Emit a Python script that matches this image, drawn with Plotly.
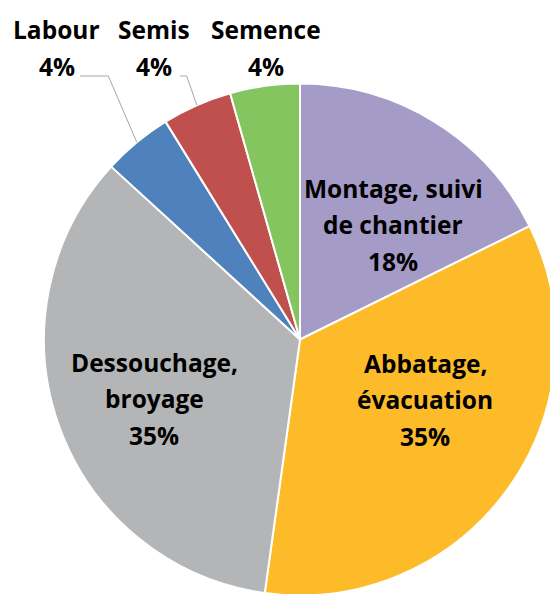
import math
import plotly.graph_objects as go

# ---- data ----
categories = ["Montage, suivi de chantier", "Abbatage, évacuation", "Dessouchage, broyage",
              "Labour", "Semis", "Semence"]
values = [17.7, 34.5, 34.6, 4.4, 4.4, 4.4]
label_lines = [["Montage, suivi", "de chantier"], ["Abbatage,", "évacuation"],
               ["Dessouchage,", "broyage"], ["Labour"], ["Semis"], ["Semence"]]

# ---- style ----
colors = ["#A59BC7", "#FDBB2A", "#B3B5B7", "#4F81BD", "#C0504D", "#85C55F"]
W, H = 560, 600              # slightly larger than the window: the pie is cropped like the original
CX, CY, R = 300, 339.5, 256  # pixels
FONT = dict(family="'Open Sans', 'Noto Sans', sans-serif", size=24.5, color="#000000")
# pixel centre of first text line and line spacing for each label
label_pos = [(393, 188.3, 36.5), (425, 363, 36.5), (154, 362, 36.5),
             (56.7, 29.7, 37), (154, 29.7, 37), (266, 29.7, 37)]
# leader lines: (start x, knee x, y) in pixels for labels outside the pie
leaders = {"Labour": (80, 108.3, 76), "Semis": (180, 186.7, 76)}

total = sum(values)
pcts = [int(v / total * 100 + 0.5) for v in values]

def px(x, y):
    return x / W, 1 - y / H

x0, y1 = px(CX - R, CY - R)
x1, y0 = px(CX + R, CY + R)
fig = go.Figure(go.Pie(
    labels=categories, values=values, sort=False, direction="clockwise", rotation=0,
    marker=dict(colors=colors, line=dict(color="white", width=2)),
    textinfo="none", hoverinfo="label+percent", showlegend=False,
    domain=dict(x=[max(0, x0), min(1, x1)], y=[max(0, y0), min(1, y1)]),
))

annotations = []
for lines, pct, (lx, ly, sp) in zip(label_lines, pcts, label_pos):
    for i, t in enumerate(lines + [f"{pct}%"]):
        x, y = px(lx, ly + i * sp)
        annotations.append(dict(x=x, y=y, xref="paper", yref="paper", text=f"<b>{t}</b>",
                                showarrow=False, xanchor="center", yanchor="middle", font=FONT))

# leader lines ending on the slice edge at the slice's mid angle
cum = 0
shapes = []
for cat, v in zip(categories, values):
    mid = (cum + v / 2) / total * 2 * math.pi
    cum += v
    if cat in leaders:
        sx, kx, ly = leaders[cat]
        ex, ey = CX + R * math.sin(mid), CY - R * math.cos(mid)
        pts = [px(sx, ly), px(kx, ly), px(ex, ey)]
        path = "M {} {} L {} {} L {} {}".format(*[c for p in pts for c in p])
        shapes.append(dict(type="path", path=path, xref="paper", yref="paper",
                           line=dict(color="#A6A6A6", width=1)))

fig.update_layout(width=W, height=H, margin=dict(l=0, r=0, t=0, b=0),
                  paper_bgcolor="white", plot_bgcolor="white",
                  annotations=annotations, shapes=shapes)
fig.write_html("out.html", config={"displayModeBar": False},
               post_script="document.body.style.margin='0';"
                           "document.body.style.overflow='hidden';"
                           "document.documentElement.style.overflow='hidden';")
